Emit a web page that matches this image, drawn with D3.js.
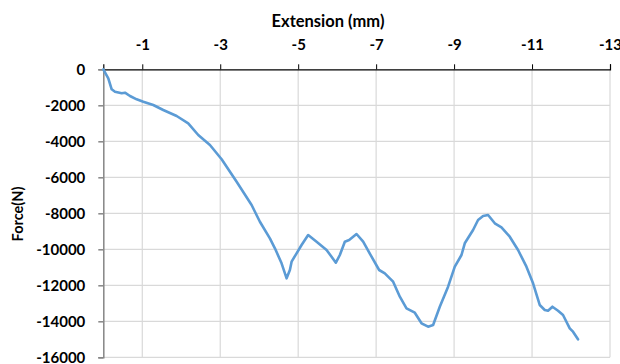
<!DOCTYPE html>
<html>
<head>
<meta charset="utf-8">
<script src="https://d3js.org/d3.v7.min.js"></script>
<style>
  body { margin: 0; background: #fff; }
  text { font-family: Lato, "Open Sans", sans-serif; font-weight: bold; fill: #000; }
</style>
</head>
<body>
<script>
  const W = 620, H = 364
  const margin = { left: 103.3, top: 69.3, right: 10, bottom: 7 }

  // extension (mm) and force (N)
  const extension = [0, -0.128, -0.215, -0.30, -0.472, -0.556, -0.685, -0.856, -1.026, -1.282, -1.538, -1.882,
    -2.179, -2.436, -2.736, -3.036, -3.421, -3.805, -4.018, -4.274, -4.403, -4.574, -4.703, -4.787, -4.831,
    -4.959, -5.087, -5.256, -5.472, -5.728, -5.856, -5.967, -6.069, -6.197, -6.308, -6.497, -6.667, -6.882,
    -7.077, -7.223, -7.351, -7.436, -7.608, -7.779, -7.992, -8.164, -8.333, -8.462, -8.633, -8.846, -9.018,
    -9.19, -9.274, -9.487, -9.615, -9.744, -9.872, -10.044, -10.215, -10.428, -10.641, -10.856, -11.026,
    -11.197, -11.326, -11.41, -11.523, -11.667, -11.795, -11.967, -12.051, -12.179]
  const force = [0, -500, -1111, -1244, -1333, -1300, -1483, -1667, -1800, -1983, -2261, -2594,
    -3000, -3650, -4206, -5000, -6244, -7539, -8467, -9389, -9944, -10778, -11611, -11150, -10689,
    -10222, -9761, -9206, -9578, -10039, -10411, -10744, -10317, -9578, -9483, -9150, -9578, -10411,
    -11150, -11333, -11611, -11800, -12633, -13278, -13522, -14111, -14300, -14206, -13189, -12078, -10967,
    -10317, -9667, -8928, -8372, -8150, -8094, -8556, -8778, -9300, -10039, -10967, -11889,
    -13094, -13372, -13411, -13189, -13411, -13650, -14389, -14578, -15000]

  const xTicks = [-1, -3, -5, -7, -9, -11, -13]
  const yTicks = [0, -2000, -4000, -6000, -8000, -10000, -12000, -14000, -16000]

  const svg = d3.select("body").append("svg").attr("width", W).attr("height", H)

  const x = d3.scaleLinear().domain([0, -13]).range([margin.left, 610])
  const y = d3.scaleLinear().domain([0, -16000]).range([margin.top, 357.3])

  // gridlines
  svg.append("g").selectAll("line.h").data(yTicks.slice(1)).join("line")
    .attr("x1", x(0)).attr("x2", x(-13))
    .attr("y1", d => y(d)).attr("y2", d => y(d))
    .attr("stroke", "#d9d9d9").attr("stroke-width", 1.2)
  svg.append("g").selectAll("line.v").data(xTicks).join("line")
    .attr("x1", d => x(d)).attr("x2", d => x(d))
    .attr("y1", y(0)).attr("y2", y(-16000))
    .attr("stroke", "#d9d9d9").attr("stroke-width", 1.2)

  const fmt = d => String(d)

  // top x axis
  const xAxis = svg.append("g").attr("transform", `translate(0,${y(0)})`)
    .call(d3.axisTop(x).tickValues(xTicks).tickSize(5).tickPadding(14).tickFormat(fmt))
  xAxis.select(".domain").attr("stroke", "#000").attr("stroke-width", 1.2)
  xAxis.selectAll(".tick line").attr("stroke", "#000")
  xAxis.selectAll("text").style("font-size", "15px").attr("font-family", null)

  // left y axis
  const yAxis = svg.append("g").attr("transform", `translate(${x(0)},0)`)
    .call(d3.axisLeft(y).tickValues(yTicks).tickSize(5).tickPadding(13).tickFormat(fmt))
  yAxis.select(".domain").attr("stroke", "#868686").attr("stroke-width", 1.5)
  yAxis.selectAll(".tick line").attr("stroke", "#868686").attr("stroke-width", 1.5)
  yAxis.selectAll("text").style("font-size", "15px").attr("font-family", null)
  svg.selectAll(".tick text").attr("fill", "#000")

  // the curve
  const pts = extension.map((e, i) => [e, force[i]])
  svg.append("path").datum(pts)
    .attr("fill", "none").attr("stroke", "#5b9bd5").attr("stroke-width", 2.6)
    .attr("stroke-linejoin", "round").attr("stroke-linecap", "round")
    .attr("d", d3.line().x(d => x(d[0])).y(d => y(d[1])))

  // axis titles
  svg.append("text").attr("x", 328).attr("y", 27).attr("text-anchor", "middle")
    .style("font-size", "16.5px").text("Extension (mm)")
  svg.append("text").attr("transform", "translate(23,214) rotate(-90)").attr("text-anchor", "middle")
    .style("font-size", "14.5px").text("Force(N)")
</script>
</body>
</html>
